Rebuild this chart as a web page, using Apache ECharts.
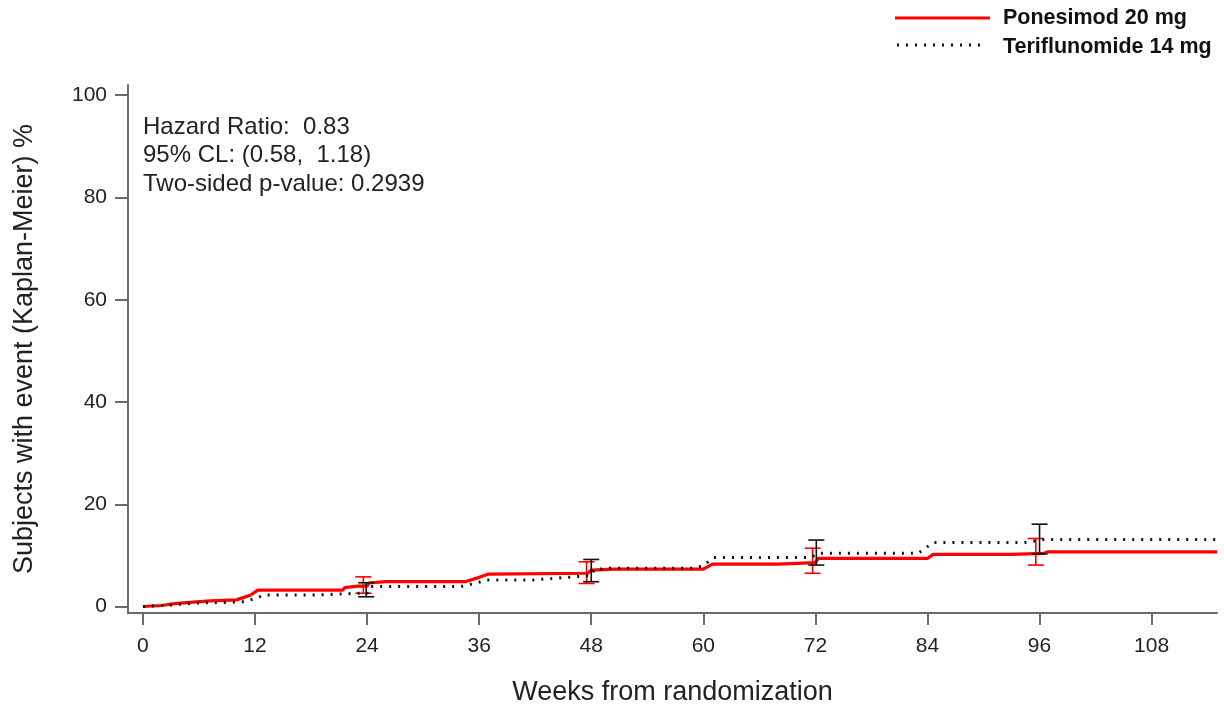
<!DOCTYPE html>
<html>
<head>
<meta charset="utf-8">
<script src="https://cdn.jsdelivr.net/npm/echarts@6/dist/echarts.min.js"></script>
<style>
  html, body { margin: 0; padding: 0; background: #fff; }
  #chart { width: 1224px; height: 706px; }
</style>
</head>
<body>
<div id="chart"></div>
<script>
// Kaplan-Meier cumulative event curves: [week, percent]
const ponesimodCurve = [
  [0, 0], [2, 0.2], [3.2, 0.5], [5, 0.8], [7.2, 1.1], [10, 1.3], [11.5, 2.2], [12.3, 3.2],
  [21.4, 3.2], [21.6, 3.7], [23, 4.0], [24, 4.0], [24.2, 4.6], [26, 4.85], [34.5, 4.85],
  [36, 5.7], [37, 6.35], [47.6, 6.5], [48, 7.1], [50.4, 7.3], [60, 7.3], [61, 8.3],
  [68, 8.3], [68.2, 8.6], [72, 8.6], [72.3, 9.4], [84, 9.4], [84.6, 10.2], [92.9, 10.2],
  [93.1, 10.4], [96.5, 10.4], [96.9, 10.7], [115, 10.7]
];
const teriflunomideCurve = [
  [0, 0], [3, 0.3], [5.8, 0.7], [9.3, 0.8], [10.7, 0.95], [12.2, 1.6], [12.9, 2.25],
  [18.5, 2.25], [18.7, 2.45], [23.2, 2.6], [24, 2.6], [24.3, 3.9], [34, 3.9], [35.8, 4.65],
  [36.8, 5.2], [41.8, 5.2], [42, 5.5], [47.6, 6.0], [48, 6.0], [48.3, 7.2], [50, 7.5],
  [59, 7.5], [60, 8.0], [61.1, 9.6], [71.5, 9.6], [72.3, 10.4], [83, 10.4], [84.6, 12.5],
  [94.3, 12.5], [96.5, 13.1], [115, 13.1]
];
// 95% confidence limits at selected weeks: [week, lower, upper]
const ponesimodCI = [[23.6, 2.6, 5.8], [47.5, 4.5, 8.75], [71.7, 6.5, 11.4], [95.6, 8.1, 13.3]];
const teriflunomideCI = [[23.9, 1.9, 4.65], [48.0, 4.85, 9.2], [72.1, 8.1, 13.0], [96.0, 10.3, 16.1]];

const xTicks = [0, 12, 24, 36, 48, 60, 72, 84, 96, 108];
const yTicks = [0, 20, 40, 60, 80, 100];
const seriesNames = ['Ponesimod 20 mg', 'Teriflunomide 14 mg'];
const seriesColors = ['#ff0000', '#111111'];
const statsLines = ['Hazard Ratio:  0.83', '95% CL: (0.58,  1.18)', 'Two-sided p-value: 0.2939'];

const FONT = '"Liberation Sans", Arial, sans-serif';
const AXIS_COLOR = '#6a6a6a';
const DOT_DASH = [2, 7];

function errorBarSeries(data, color) {
  return {
    type: 'custom',
    data: data,
    z: 4,
    renderItem: function (params, api) {
      const x = api.value(0);
      const lo = api.coord([x, api.value(1)]);
      const hi = api.coord([x, api.value(2)]);
      const half = 8;
      const style = { stroke: color, lineWidth: 1.6, fill: null };
      return {
        type: 'group',
        children: [
          { type: 'line', shape: { x1: lo[0], y1: lo[1], x2: hi[0], y2: hi[1] }, style: style },
          { type: 'line', shape: { x1: lo[0] - half, y1: lo[1], x2: lo[0] + half, y2: lo[1] }, style: style },
          { type: 'line', shape: { x1: hi[0] - half, y1: hi[1], x2: hi[0] + half, y2: hi[1] }, style: style }
        ]
      };
    }
  };
}

// Key in the top-right corner
const legendGraphics = [
  { type: 'line', shape: { x1: 895, y1: 18, x2: 990, y2: 18 }, style: { stroke: seriesColors[0], lineWidth: 3 } },
  { type: 'line', shape: { x1: 897, y1: 45, x2: 985, y2: 45 }, style: { stroke: seriesColors[1], lineWidth: 3, lineDash: DOT_DASH } },
  { type: 'text', x: 1003, y: 18, style: { text: seriesNames[0], fontSize: 21.5, fontWeight: 'bold', fill: '#111', fontFamily: FONT, verticalAlign: 'middle' } },
  { type: 'text', x: 1003, y: 47, style: { text: seriesNames[1], fontSize: 21.5, fontWeight: 'bold', fill: '#111', fontFamily: FONT, verticalAlign: 'middle' } }
];

const statsGraphics = statsLines.map(function (t, i) {
  return {
    type: 'text',
    x: 143,
    y: 127 + i * 28.5,
    style: { text: t, fontSize: 24, fill: '#222', fontFamily: FONT, verticalAlign: 'middle' }
  };
});

const chart = echarts.init(document.getElementById('chart'), null, { renderer: 'canvas' });
chart.setOption({
  animation: false,
  backgroundColor: '#ffffff',
  textStyle: { fontFamily: FONT },
  grid: { left: 128, right: 7, top: 85, bottom: 93, containLabel: false, outerBoundsMode: 'none' },
  xAxis: {
    type: 'value',
    min: -1.6,
    max: 115,
    name: 'Weeks from randomization',
    nameLocation: 'middle',
    nameGap: 66,
    nameTextStyle: { fontSize: 27, color: '#222', fontFamily: FONT },
    axisLine: { show: true, onZero: false, lineStyle: { color: AXIS_COLOR, width: 2 } },
    axisTick: { show: true, customValues: xTicks, length: 12, lineStyle: { color: AXIS_COLOR, width: 2 } },
    axisLabel: { customValues: xTicks, fontSize: 21, color: '#222', margin: 23 },
    splitLine: { show: false }
  },
  yAxis: {
    type: 'value',
    min: -1.27,
    max: 102,
    name: 'Subjects with event (Kaplan-Meier) %',
    nameLocation: 'middle',
    nameGap: 90,
    nameTextStyle: { fontSize: 27, color: '#222', fontFamily: FONT },
    axisLine: { show: true, onZero: false, lineStyle: { color: AXIS_COLOR, width: 2 } },
    axisTick: { show: true, customValues: yTicks, length: 13, lineStyle: { color: AXIS_COLOR, width: 2 } },
    axisLabel: { customValues: yTicks, fontSize: 21, color: '#222', margin: 21 },
    splitLine: { show: false }
  },
  graphic: legendGraphics.concat(statsGraphics),
  series: [
    {
      name: seriesNames[0],
      type: 'line',
      data: ponesimodCurve,
      symbol: 'none',
      z: 2,
      lineStyle: { color: seriesColors[0], width: 3.2 }
    },
    errorBarSeries(ponesimodCI, seriesColors[0]),
    {
      name: seriesNames[1],
      type: 'line',
      data: teriflunomideCurve,
      symbol: 'none',
      z: 5,
      lineStyle: { color: seriesColors[1], width: 3, type: DOT_DASH }
    },
    errorBarSeries(teriflunomideCI, seriesColors[1])
  ]
});
</script>
</body>
</html>
